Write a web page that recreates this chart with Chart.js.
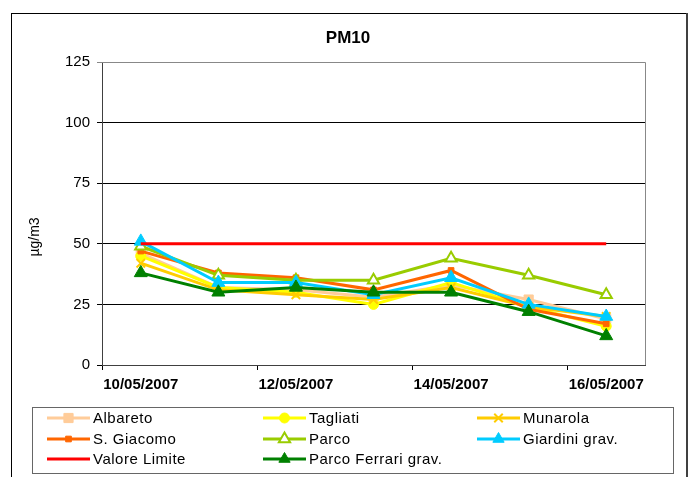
<!DOCTYPE html>
<html lang="it">
  <head>
    <title>PM10</title>
    <meta charset="utf-8" />
    <script src="https://cdn.jsdelivr.net/npm/chart.js@4.4.1/dist/chart.umd.min.js"></script>
  </head>

  <body style="padding: 0; margin: 0; background: #fff">
    <canvas id="pm10" width="689" height="477"></canvas>

    <script>
      const days = ["10/05/2007", "11/05/2007", "12/05/2007", "13/05/2007", "14/05/2007", "15/05/2007", "16/05/2007"];
      const yTicks = [0, 25, 50, 75, 100, 125];

      const albareto = [46, 32, 31, 28, 33, 27, 19];
      const tagliati = [45, 32, 30, 25, 34, 24, 16];
      const munarola = [42, 31, 29, 27, 32, 24, 20];
      const sGiacomo = [47, 38, 36, 31, 39, 23, 17];
      const parco = [49, 37, 35, 35, 44, 37, 29];
      const giardini = [51, 34, 34, 29, 36, 25, 20];
      const valoreLimite = [50, 50, 50, 50, 50, 50, 50];
      const parcoFerrari = [38, 30, 32, 30, 30, 22, 12];

      const FONT = "'Liberation Sans', Arial, sans-serif";

      function series(label, data, color, style, radius, fill, bw) {
        return {
          label: label,
          data: data,
          borderColor: color,
          backgroundColor: color,
          borderWidth: 3,
          tension: 0,
          pointStyle: style,
          pointRadius: radius,
          pointBackgroundColor: fill || color,
          pointBorderColor: color,
          pointBorderWidth: bw || 1,
        };
      }

      const datasets = [
        series("Albareto", albareto, "#FFCC99", "rect", 6.5),
        series("Tagliati", tagliati, "#FFFF00", "circle", 5),
        series("Munarola", munarola, "#FFCC00", "crossRot", 6, null, 2),
        series("S. Giacomo", sGiacomo, "#FF6600", "rect", 4),
        series("Parco", parco, "#99CC00", "triangle", 6.5, "#fff", 2),
        series("Giardini grav.", giardini, "#00CCFF", "triangle", 7.5),
        series("Valore Limite", valoreLimite, "#FF0000", false, 0),
        series("Parco Ferrari grav.", parcoFerrari, "#008000", "triangle", 7.5),
      ];
      // later series on top, like the original
      datasets.forEach((ds, i) => (ds.order = datasets.length - i));

      function marker(ctx, ds, x, y, r) {
        if (!ds.pointStyle) return;
        ctx.save();
        ctx.fillStyle = ds.pointBackgroundColor;
        ctx.strokeStyle = ds.pointBorderColor;
        ctx.lineWidth = ds.pointBorderWidth;
        Chart.helpers.drawPoint(ctx, { pointStyle: ds.pointStyle, radius: r, rotation: 0, borderWidth: ds.pointBorderWidth }, x, y);
        ctx.restore();
      }

      const frame = {
        id: "frame",
        beforeDatasetsDraw(chart) {
          const { ctx, chartArea: a } = chart;
          ctx.save();
          ctx.strokeStyle = "#888";
          ctx.lineWidth = 1;
          ctx.beginPath();
          ctx.moveTo(a.left, a.top + 0.5);
          ctx.lineTo(a.right + 0.5, a.top + 0.5);
          ctx.lineTo(a.right + 0.5, a.bottom);
          ctx.stroke();
          ctx.restore();
        },
        afterDraw(chart) {
          const { ctx } = chart;
          ctx.save();
          // outer border
          ctx.strokeStyle = "#000";
          ctx.lineWidth = 1;
          ctx.strokeRect(11.5, 13.5, 675, 470);
          ctx.fillStyle = "#404040";
          ctx.fillRect(686, 13, 2, 464);

          // title
          ctx.fillStyle = "#000";
          ctx.font = `bold 17px ${FONT}`;
          ctx.textAlign = "center";
          ctx.textBaseline = "middle";
          ctx.fillText("PM10", 348, 38);

          // y axis title
          ctx.save();
          ctx.translate(35, 237);
          ctx.rotate(-Math.PI / 2);
          ctx.font = `14px ${FONT}`;
          ctx.fillText("µg/m3", 0, 0);
          ctx.restore();

          // legend
          ctx.strokeStyle = "#666";
          ctx.strokeRect(32.5, 407.5, 641, 66);
          ctx.font = `15px ${FONT}`;
          ctx.letterSpacing = "0.5px";
          ctx.textAlign = "left";
          const cols = [47, 263, 477];
          const rows = [418, 439, 459];
          chart.data.datasets.forEach((ds, i) => {
            const x = cols[i % 3];
            const y = rows[Math.floor(i / 3)];
            ctx.strokeStyle = ds.borderColor;
            ctx.lineWidth = 3;
            ctx.beginPath();
            ctx.moveTo(x, y);
            ctx.lineTo(x + 43, y);
            ctx.stroke();
            marker(ctx, ds, x + 21.5, y, Math.min(ds.pointRadius, 6.5));
            ctx.fillStyle = "#000";
            ctx.fillText(ds.label, x + 46, y + 1);
          });
          ctx.restore();
        },
      };

      new Chart(document.getElementById("pm10"), {
        type: "line",
        data: { labels: days, datasets: datasets },
        plugins: [frame],
        options: {
          responsive: false,
          animation: false,
          layout: { padding: { top: 62, right: 44, left: 0, bottom: 0 } },
          plugins: { legend: { display: false }, title: { display: false }, tooltip: { enabled: false } },
          scales: {
            x: {
              offset: true,
              afterFit: (s) => (s.height = 112),
              grid: {
                offset: true,
                drawOnChartArea: false,
                tickLength: 5,
                color: (c) => (c.index % 2 === 0 ? "#000" : "rgba(0,0,0,0)"),
              },
              border: { color: "#404040" },
              ticks: {
                autoSkip: false,
                maxRotation: 0,
                padding: 6,
                color: "#000",
                font: { family: FONT, size: 15, weight: "bold" },
                callback: (v, i) => (i % 2 === 0 ? days[i] : ""),
              },
            },
            y: {
              min: 0,
              max: 125,
              afterFit: (s) => (s.width = 102),
              afterBuildTicks: (s) => (s.ticks = yTicks.map((v) => ({ value: v }))),
              grid: {
                tickLength: 5,
                color: (c) => (c.tick && c.tick.value === 125 ? "#888" : "#000"),
              },
              border: { color: "#404040" },
              ticks: {
                padding: 7,
                color: "#000",
                font: { family: FONT, size: 15 },
              },
            },
          },
        },
      });
    </script>
  </body>
</html>
